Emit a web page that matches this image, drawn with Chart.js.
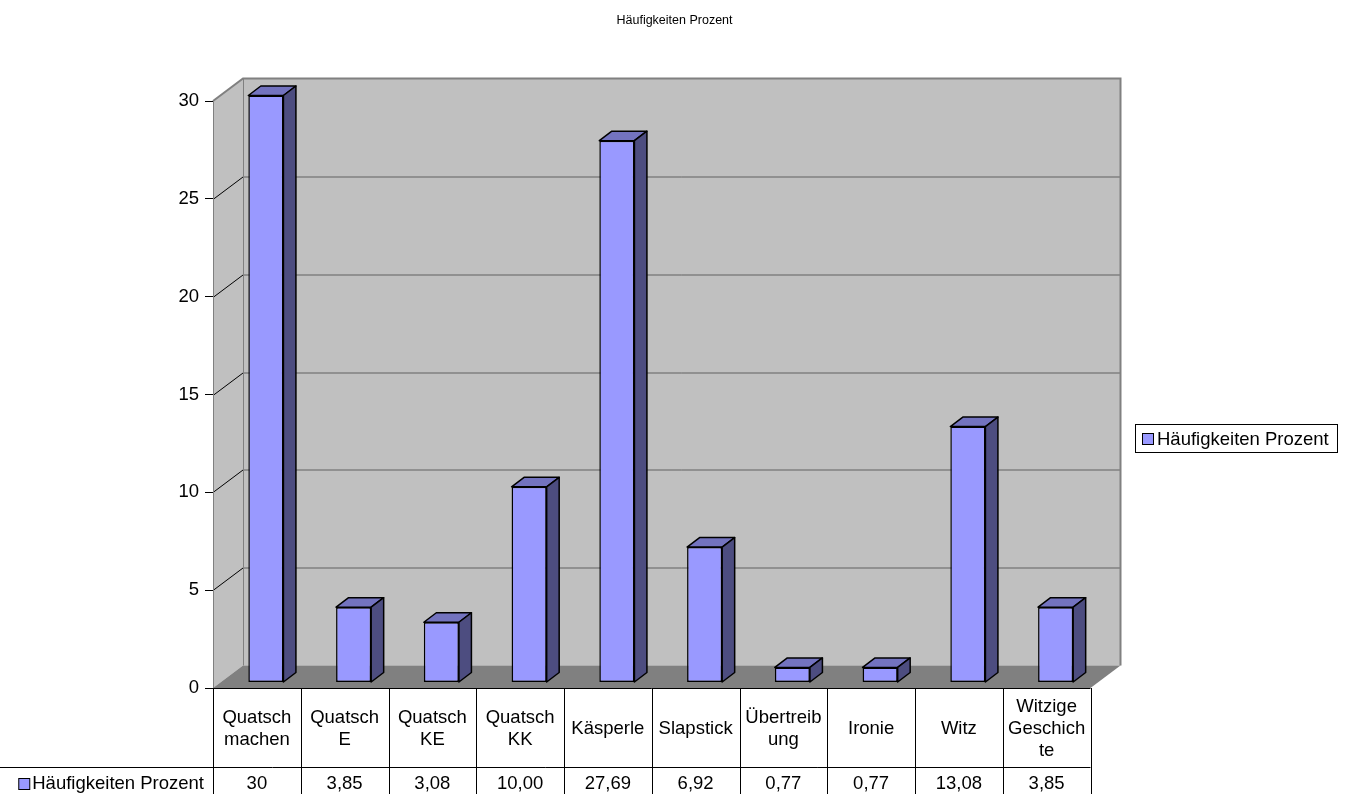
<!DOCTYPE html>
<html>
<head>
<meta charset="utf-8">
<title>Häufigkeiten Prozent</title>
<script src="https://cdn.jsdelivr.net/npm/chart.js@4.4.1/dist/chart.umd.min.js"></script>
<style>
  html, body { margin: 0; padding: 0; background: #fff; }
  canvas { display: block; }
</style>
</head>
<body>
<canvas id="haeufigkeitenChart" width="1349" height="794"></canvas>
<script>
// data
var categories = [
    ['Quatsch', 'machen'],
    ['Quatsch', 'E'],
    ['Quatsch', 'KE'],
    ['Quatsch', 'KK'],
    'Käsperle',
    'Slapstick',
    ['Übertreib', 'ung'],
    'Ironie',
    'Witz',
    ['Witzige', 'Geschich', 'te']
];
var values = [30, 3.85, 3.08, 10.00, 27.69, 6.92, 0.77, 0.77, 13.08, 3.85];
var valueLabels = ['30', '3,85', '3,08', '10,00', '27,69', '6,92', '0,77', '0,77', '13,08', '3,85'];
var seriesName = 'Häufigkeiten Prozent';
var chartTitle = 'Häufigkeiten Prozent';

var FONT = "'Liberation Sans', Arial, sans-serif";
var TEXT_SIZE = 18.5;
var barColor = '#9999ff';
var barTop = '#7373bf';
var barSide = '#4d4d80';

// 3d offsets
var DX = 30, DY = -22.5;     // depth of the walls
var BX = 9, BY = -5.5;       // plane where the bars stand
var BDX = 12.5, BDY = -9.5;  // depth of a bar

var walls3d = {
    id: 'walls3d',
    beforeDraw: function(chart) {
        var ctx = chart.ctx, a = chart.chartArea, y = chart.scales.y;
        ctx.save();
        ctx.fillStyle = '#fff';
        ctx.fillRect(0, 0, chart.width, chart.height);

        // title, centred on the whole picture
        ctx.fillStyle = '#000';
        ctx.font = '12.5px ' + FONT;
        ctx.textAlign = 'center';
        ctx.textBaseline = 'middle';
        ctx.fillText(chartTitle, chart.width / 2, 21);

        // back wall
        ctx.fillStyle = '#c0c0c0';
        ctx.fillRect(a.left + DX, a.top + DY, a.right - a.left, a.bottom - a.top);
        // left wall
        ctx.beginPath();
        ctx.moveTo(a.left, a.top);
        ctx.lineTo(a.left + DX, a.top + DY);
        ctx.lineTo(a.left + DX, a.bottom + DY);
        ctx.lineTo(a.left, a.bottom);
        ctx.closePath();
        ctx.fill();
        // floor
        ctx.fillStyle = '#808080';
        ctx.beginPath();
        ctx.moveTo(a.left, a.bottom);
        ctx.lineTo(a.left + DX, a.bottom + DY);
        ctx.lineTo(a.right + DX, a.bottom + DY);
        ctx.lineTo(a.right, a.bottom);
        ctx.closePath();
        ctx.fill();

        // gridlines
        y.ticks.forEach(function(t) {
            if (t.value <= 0 || t.value >= 30) return;
            var py = Math.round(y.getPixelForValue(t.value)) + 0.5;
            ctx.lineWidth = 1;
            ctx.strokeStyle = '#606060';
            ctx.beginPath();
            ctx.moveTo(a.left + DX, py + DY);
            ctx.lineTo(a.right + DX, py + DY);
            ctx.stroke();
            ctx.strokeStyle = '#000';
            ctx.beginPath();
            ctx.moveTo(a.left, py);
            ctx.lineTo(a.left + DX, py + DY);
            ctx.stroke();
        });

        // wall edges
        ctx.strokeStyle = '#808080';
        ctx.lineWidth = 2;
        ctx.beginPath();
        ctx.moveTo(a.left, a.top);
        ctx.lineTo(a.left + DX, a.top + DY);
        ctx.lineTo(a.right + DX, a.top + DY);
        ctx.lineTo(a.right + DX, a.bottom + DY);
        ctx.stroke();
        ctx.lineWidth = 1;
        ctx.beginPath();
        ctx.moveTo(a.left + DX + 0.5, a.top + DY);
        ctx.lineTo(a.left + DX + 0.5, a.bottom + DY);
        ctx.stroke();
        ctx.restore();
    },
    beforeDatasetsDraw: function(chart) {
        chart.ctx.save();
        chart.ctx.translate(BX, BY);
    },
    afterDatasetsDraw: function(chart) {
        var ctx = chart.ctx;
        var meta = chart.getDatasetMeta(0);
        ctx.lineWidth = 1.5;
        ctx.strokeStyle = '#000';
        ctx.lineJoin = 'round';
        meta.data.forEach(function(bar) {
            var l = bar.x - bar.width / 2, r = bar.x + bar.width / 2;
            var top = bar.y, base = bar.base;
            // top face
            ctx.fillStyle = barTop;
            ctx.beginPath();
            ctx.moveTo(l, top);
            ctx.lineTo(l + BDX, top + BDY);
            ctx.lineTo(r + BDX, top + BDY);
            ctx.lineTo(r, top);
            ctx.closePath();
            ctx.fill();
            ctx.stroke();
            // side face
            ctx.fillStyle = barSide;
            ctx.beginPath();
            ctx.moveTo(r, top);
            ctx.lineTo(r + BDX, top + BDY);
            ctx.lineTo(r + BDX, base + BDY);
            ctx.lineTo(r, base);
            ctx.closePath();
            ctx.fill();
            ctx.stroke();
        });
        ctx.restore();
    },
    afterDraw: function(chart) {
        var ctx = chart.ctx, a = chart.chartArea, x = chart.scales.x;
        var colW = (a.right - a.left) / categories.length;
        var row1Top = a.bottom, row2Top = 767, row2Bottom = 801;
        ctx.save();
        ctx.strokeStyle = '#000';
        ctx.lineWidth = 1;

        // table lines
        ctx.beginPath();
        ctx.moveTo(a.left, row1Top + 0.5);
        ctx.lineTo(a.right, row1Top + 0.5);
        ctx.moveTo(0, row2Top + 0.5);
        ctx.lineTo(a.right, row2Top + 0.5);
        for (var i = 0; i <= categories.length; i++) {
            var lx = Math.round(a.left + i * colW) + 0.5;
            ctx.moveTo(lx, row1Top);
            ctx.lineTo(lx, row2Bottom);
        }
        ctx.stroke();

        ctx.fillStyle = '#000';
        ctx.font = TEXT_SIZE + 'px ' + FONT;
        ctx.textAlign = 'center';
        ctx.textBaseline = 'middle';
        var midRow1 = (row1Top + row2Top) / 2;
        categories.forEach(function(c, i) {
            var lines = Array.isArray(c) ? c : [c];
            var cx = x.getPixelForValue(i);
            var start = midRow1 - (lines.length - 1) * 22 / 2;
            lines.forEach(function(s, j) {
                ctx.fillText(s, cx, start + j * 22 + 1);
            });
            ctx.fillText(valueLabels[i], cx, (row2Top + row2Bottom) / 2);
        });

        // legend key inside table
        var midRow2 = (row2Top + row2Bottom) / 2;
        ctx.textAlign = 'right';
        var tw = ctx.measureText(seriesName).width;
        ctx.fillText(seriesName, a.left - 9, midRow2);
        var kx = a.left - 9 - tw - 14;
        ctx.fillStyle = barColor;
        ctx.fillRect(kx + 0.5, midRow2 - 5.5, 11, 11);
        ctx.strokeRect(kx + 0.5, midRow2 - 5.5, 11, 11);

        // legend box on the right
        ctx.fillStyle = '#fff';
        ctx.fillRect(1135.5, 424.5, 202, 28);
        ctx.strokeStyle = '#000';
        ctx.strokeRect(1135.5, 424.5, 202, 28);
        ctx.fillStyle = barColor;
        ctx.fillRect(1142.5, 433.5, 11, 11);
        ctx.strokeRect(1142.5, 433.5, 11, 11);
        ctx.fillStyle = '#000';
        ctx.textAlign = 'left';
        ctx.fillText(seriesName, 1157, 439.5);
        ctx.restore();
    }
};

var ctxBar = document.getElementById('haeufigkeitenChart');

var myBarChart = new Chart(ctxBar, {
    type: 'bar',
    data: {
        labels: categories,
        datasets: [{
            label: seriesName,
            data: values,
            backgroundColor: barColor,
            borderColor: '#000',
            borderWidth: 1.5,
            borderSkipped: false,
            categoryPercentage: 1,
            barPercentage: 0.4,
            clip: false
        }]
    },
    options: {
        responsive: false,
        animation: false,
        layout: {
            padding: { left: 163, right: 258.5, top: 101, bottom: 106 }
        },
        plugins: {
            legend: { display: false },
            tooltip: { enabled: false },
            title: { display: false }
        },
        scales: {
            x: {
                display: false
            },
            y: {
                min: 0,
                max: 30,
                afterFit: function(scale) { scale.width = 50; },
                ticks: {
                    stepSize: 5,
                    color: '#000',
                    padding: 6,
                    font: { family: FONT, size: TEXT_SIZE }
                },
                grid: {
                    drawOnChartArea: false,
                    drawTicks: true,
                    tickLength: 8,
                    tickColor: '#000'
                },
                border: {
                    display: true,
                    color: '#808080',
                    width: 1
                }
            }
        }
    },
    plugins: [walls3d]
});
</script>
</body>
</html>
